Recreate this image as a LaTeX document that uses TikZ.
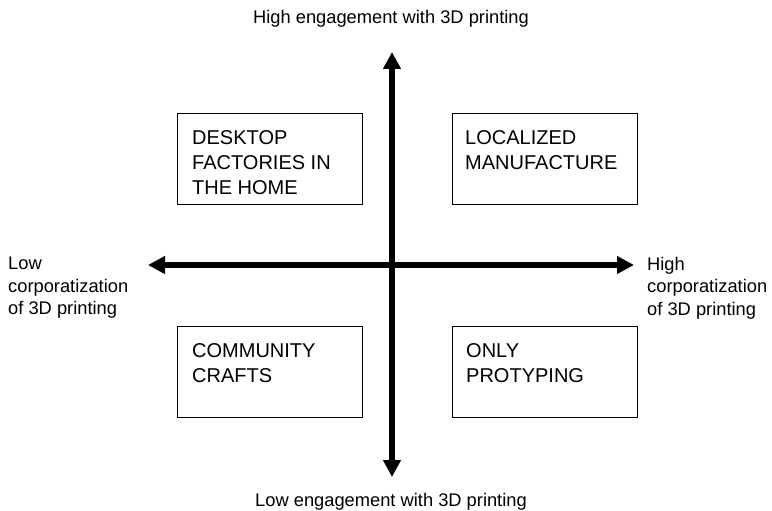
\documentclass[tikz,border=0pt]{standalone}
\usepackage{fontspec}
\setmainfont{Liberation Sans}
\usetikzlibrary{arrows.meta}
\begin{document}
\begin{tikzpicture}[x=1pt,y=-1pt,
  quad/.style={draw=black,line width=1.2pt,minimum width=185pt,minimum height=91pt,anchor=north west,inner sep=0pt},
  quadtext/.style={anchor=north west,inner sep=0pt,align=left,font=\fontsize{20}{25}\selectfont},
  axislabel/.style={inner sep=0pt,font=\fontsize{18.3}{22.5}\selectfont},
  axis/.style={line width=5.5pt,{Triangle[length=17pt,width=17pt]}-{Triangle[length=17pt,width=17pt]}}]
\useasboundingbox (0,0) rectangle (772,511);

% axis end points
\coordinate (top) at (392,52);
\coordinate (bottom) at (392,477);
\coordinate (left) at (148,265);
\coordinate (right) at (634,265);
\draw[axis] (top) -- (bottom);
\draw[axis] (left) -- (right);

% quadrant boxes
\node[quad] (tl) at (177,113) {};
\node[quad] (tr) at (452,113) {};
\node[quad] (bl) at (177,326) {};
\node[quad] (br) at (452,326) {};

\node[quadtext] (tlt) at ([shift={(15,17)}]tl.north west) {DESKTOP\\FACTORIES IN\\THE HOME};
\node[quadtext] (trt) at ([shift={(13,17)}]tr.north west) {LOCALIZED\\MANUFACTURE};
\node[quadtext] (blt) at ([shift={(15,17)}]bl.north west) {COMMUNITY\\CRAFTS};
\node[quadtext] (brt) at ([shift={(14,17)}]br.north west) {ONLY\\PROTYPING};

% axis labels
\node[axislabel,anchor=base] (hi) at (391,24) {High engagement with 3D printing};
\node[axislabel,anchor=base] (lo) at (391,506) {Low engagement with 3D printing};
\node[axislabel,anchor=north west,align=left] (lcorp) at (8,257) {Low\\corporatization\\of 3D printing};
\node[axislabel,anchor=north west,align=left] (hcorp) at (647,257) {High\\corporatization\\of 3D printing};
\end{tikzpicture}
\end{document}
